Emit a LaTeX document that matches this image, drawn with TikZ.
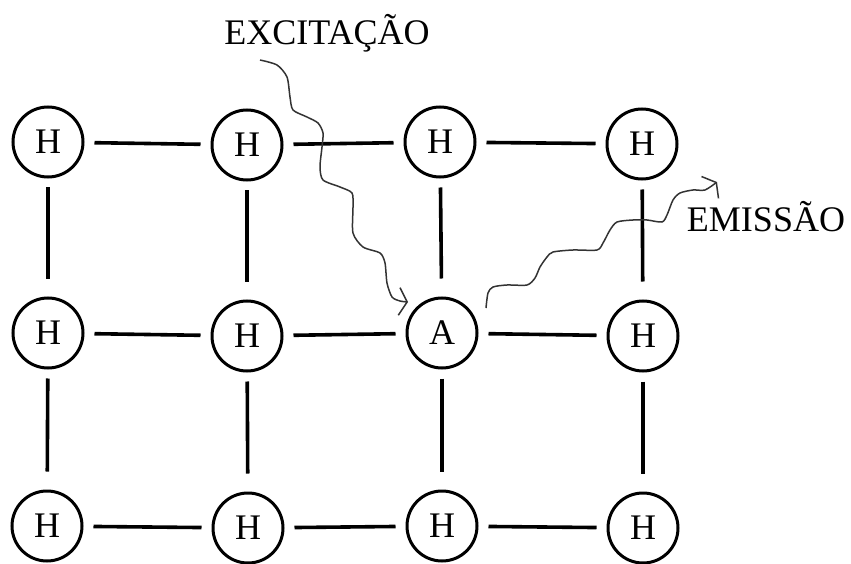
\documentclass[tikz,border=0pt]{standalone}
\usepackage{fontspec}
\setmainfont{Liberation Serif}
\usetikzlibrary{arrows.meta,calc}

\tikzset{
  atom/.style={circle, draw, line width=3pt, minimum size=70pt, inner sep=0pt,
    font=\fontsize{36}{40}\selectfont},
  hbond/.style={line width=3.6pt, shorten <=10pt, shorten >=10pt},
  vbond/.style={line width=3.6pt, shorten <=9pt, shorten >=18pt},
  photon/.style={line width=1.5pt, draw=black!80, line join=round,
    -{Straight Barb[angle=120:16pt]}},
  tag/.style={font=\fontsize{36}{40}\selectfont, anchor=base}
}

\begin{document}
\begin{tikzpicture}[x=1pt, y=-1pt]
        \useasboundingbox (0,0) rectangle (851,564);

        % lattice
        \node[atom] (h11) at (48,142) {H};
        \node[atom] (h12) at (247,145) {H};
        \node[atom] (h13) at (440,142) {H};
        \node[atom] (h14) at (642,144) {H};

        \node[atom] (h21) at (48,333) {H};
        \node[atom] (h22) at (247,336) {H};
        \node[atom] (a)   at (442,333) {A};
        \node[atom] (h24) at (643,336) {H};

        \node[atom] (h31) at (47,526) {H};
        \node[atom] (h32) at (248,528) {H};
        \node[atom] (h33) at (442,526) {H};
        \node[atom] (h34) at (643,528) {H};

        \draw[hbond] (h11) -- (h12); \draw[hbond] (h12) -- (h13); \draw[hbond] (h13) -- (h14);
        \draw[hbond] (h21) -- (h22); \draw[hbond] (h22) -- (a);   \draw[hbond] (a) -- (h24);
        \draw[hbond] (h31) -- (h32); \draw[hbond] (h32) -- (h33); \draw[hbond] (h33) -- (h34);

        \draw[vbond] (h11) -- (h21); \draw[vbond] (h12) -- (h22);
        \draw[vbond] (h13) -- (a);   \draw[vbond] (h14) -- (h24);
        \draw[vbond] (h21) -- (h31); \draw[vbond] (h22) -- (h32);
        \draw[vbond] (a) -- (h33);   \draw[vbond] (h24) -- (h34);

        % labels
        \node[tag] (exc) at (327,45) {EXCITAÇÃO};
        \node[tag] (emi) at (766,232) {EMISSÃO};

        % photons
        \coordinate (exout) at (260,60);
        \coordinate (exin) at ($(a)+(-34,-31)$);
        \draw[photon] plot[smooth, tension=0.45] coordinates {(exout) (277,65) (287,77) (290,97)
            (293,110) (307,117) (318,123) (323,133) (322,147) (320,167) (323,180) (340,187)
            (352,193) (353,207) (353,233) (363,247) (380,253) (385,263) (387,283) (392,297)
            (400,301) (exin)};

        \coordinate (emout) at ($(a)+(44,-25)$);
        \coordinate (emin) at (717,182);
        \draw[photon] plot[smooth, tension=0.45] coordinates {(emout) (488,293) (493,287)
            (507,285) (527,285) (535,278) (540,267) (547,257) (553,252) (573,250) (597,250)
            (603,243) (610,230) (617,222) (633,220) (647,220) (662,222) (667,215) (673,200)
            (680,193) (693,190) (705,190) (emin)};
    \end{tikzpicture}
\end{document}
